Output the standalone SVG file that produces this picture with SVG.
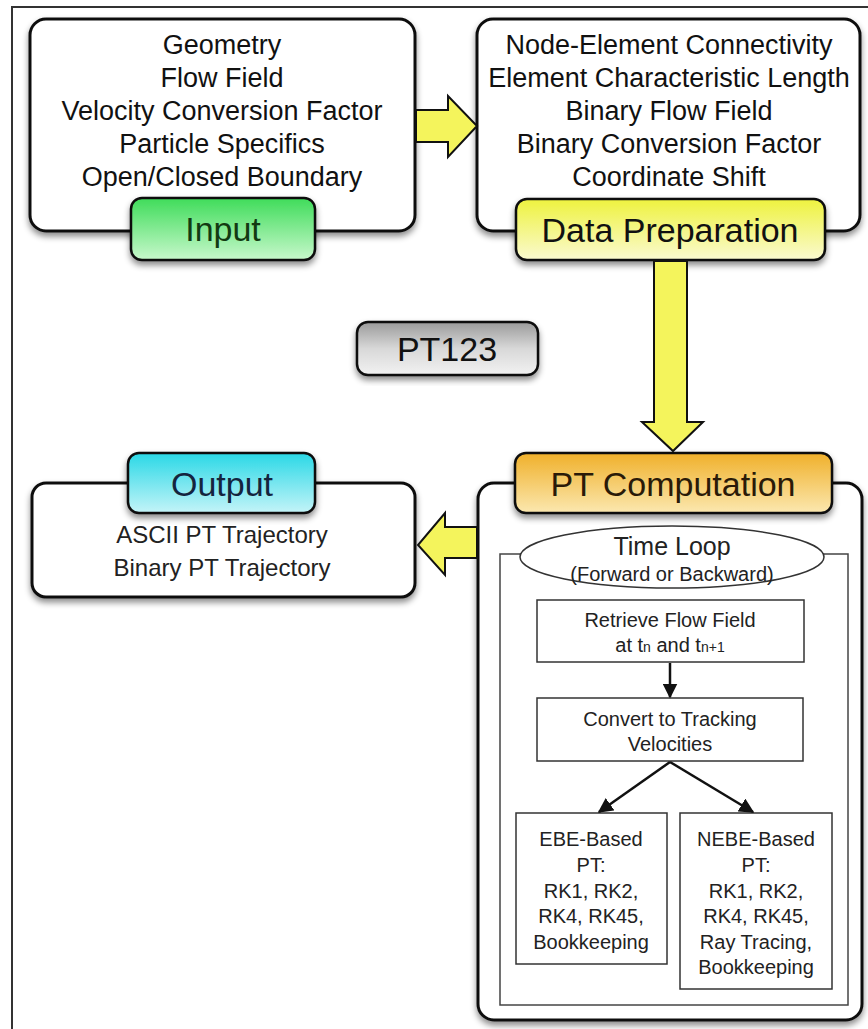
<svg xmlns="http://www.w3.org/2000/svg" width="868" height="1029" viewBox="0 0 868 1029">
<defs>
<style>
.box{fill:#fff;stroke:#111;stroke-width:3}
.txt{font-family:"Liberation Sans",Arial,sans-serif;fill:#111;text-anchor:middle}
.big{font-size:27px}
.lbl{font-size:34px}
.sm{font-size:20px;fill:#222}
.inner{fill:#fff;stroke:#333;stroke-width:1.5}
.yarrow{fill:#f4f45c;stroke:#111;stroke-width:2;stroke-linejoin:miter}
.conn{stroke:#111;stroke-width:2.5;fill:none}
</style>
<filter id="sh" x="-10%" y="-10%" width="120%" height="130%">
<feDropShadow dx="0" dy="4" stdDeviation="3" flood-color="#000" flood-opacity="0.45"/>
</filter>
<linearGradient id="gGreen" x1="0" y1="0" x2="0" y2="1">
<stop offset="0" stop-color="#3fdc5a"/><stop offset="1" stop-color="#c8f8cc"/>
</linearGradient>
<linearGradient id="gYellow" x1="0" y1="0" x2="0" y2="1">
<stop offset="0" stop-color="#eef23e"/><stop offset="1" stop-color="#fafad0"/>
</linearGradient>
<linearGradient id="gOrange" x1="0" y1="0" x2="0" y2="1">
<stop offset="0" stop-color="#f0b02a"/><stop offset="1" stop-color="#fbe8b0"/>
</linearGradient>
<linearGradient id="gCyan" x1="0" y1="0" x2="0" y2="1">
<stop offset="0" stop-color="#2ad8e6"/><stop offset="1" stop-color="#c4f4f8"/>
</linearGradient>
<linearGradient id="gGray" x1="0" y1="0" x2="0" y2="1">
<stop offset="0" stop-color="#9a9a9a"/><stop offset="0.5" stop-color="#d8d8d8"/><stop offset="1" stop-color="#f2f2f2"/>
</linearGradient>
<marker id="ah" viewBox="0 0 10 10" refX="9" refY="5" markerWidth="6" markerHeight="6" orient="auto" markerUnits="strokeWidth">
<path d="M0,0 L10,5 L0,10 z" fill="#111"/>
</marker>
</defs>
<rect x="0" y="0" width="868" height="1029" fill="#fff"/>
<path d="M12,1029 V7 H868" fill="none" stroke="#333" stroke-width="2"/>

<g id="input">
<rect class="box" x="30" y="19" width="385" height="212" rx="16" filter="url(#sh)"/>
<text class="txt big" x="222" y="54">Geometry</text>
<text class="txt big" x="222" y="87">Flow Field</text>
<text class="txt big" x="222" y="120">Velocity Conversion Factor</text>
<text class="txt big" x="222" y="153">Particle Specifics</text>
<text class="txt big" x="222" y="186">Open/Closed Boundary</text>
<rect x="131" y="198" width="184" height="62" rx="11" fill="url(#gGreen)" stroke="#111" stroke-width="2.5" filter="url(#sh)"/>
<text class="txt lbl" x="223" y="241" style="fill:#123a12">Input</text>
</g>

<g id="data-preparation">
<rect class="box" x="477" y="19" width="383" height="212" rx="16" filter="url(#sh)"/>
<text class="txt big" x="669" y="54">Node-Element Connectivity</text>
<text class="txt big" x="669" y="87">Element Characteristic Length</text>
<text class="txt big" x="669" y="120">Binary Flow Field</text>
<text class="txt big" x="669" y="153">Binary Conversion Factor</text>
<text class="txt big" x="669" y="186">Coordinate Shift</text>
<rect x="516" y="199" width="309" height="61" rx="11" fill="url(#gYellow)" stroke="#111" stroke-width="2.5" filter="url(#sh)"/>
<text class="txt lbl" x="670" y="242">Data Preparation</text>
</g>

<g id="pt123">
<rect x="357" y="322" width="181" height="53" rx="11" fill="url(#gGray)" stroke="#111" stroke-width="2.5" filter="url(#sh)"/>
<text class="txt lbl" x="447" y="361">PT123</text>
</g>

<g id="output">
<rect class="box" x="32" y="483" width="383" height="114" rx="14" filter="url(#sh)"/>
<rect x="128" y="453" width="187" height="60" rx="11" fill="url(#gCyan)" stroke="#111" stroke-width="2.5" filter="url(#sh)"/>
<text class="txt lbl" x="222" y="496" style="fill:#14243e">Output</text>
<text class="txt" x="222" y="543" font-size="24" style="fill:#222">ASCII PT Trajectory</text>
<text class="txt" x="222" y="576" font-size="24" style="fill:#222">Binary PT Trajectory</text>
</g>

<g id="pt-computation">
<rect class="box" x="478" y="483" width="384" height="537" rx="16" filter="url(#sh)"/>
<rect x="500" y="554" width="348" height="451" fill="none" stroke="#444" stroke-width="1.5"/>
<rect x="515" y="453" width="317" height="60" rx="11" fill="url(#gOrange)" stroke="#111" stroke-width="2.5" filter="url(#sh)"/>
<text class="txt lbl" x="673" y="496" style="fill:#2a1a08">PT Computation</text>
</g>

<g id="time-loop">
<ellipse cx="672" cy="557" rx="152" ry="31" fill="#fff" stroke="#333" stroke-width="1.5"/>
<text class="txt" x="672" y="555" font-size="25" style="fill:#222">Time Loop</text>
<text class="txt sm" x="672" y="581">(Forward or Backward)</text>
</g>

<g id="retrieve">
<rect class="inner" x="537" y="600" width="267" height="62"/>
<text class="txt sm" x="670" y="627">Retrieve Flow Field</text>
<text class="txt sm" x="670" y="652">at t<tspan font-size="14">n</tspan> and t<tspan font-size="14">n+1</tspan></text>
</g>

<g id="convert">
<rect class="inner" x="537" y="698" width="266" height="63"/>
<text class="txt sm" x="670" y="726">Convert to Tracking</text>
<text class="txt sm" x="670" y="751">Velocities</text>
</g>

<g id="ebe">
<rect class="inner" x="516" y="813" width="151" height="151"/>
<text class="txt sm" x="591" y="846">EBE-Based</text>
<text class="txt sm" x="591" y="872">PT:</text>
<text class="txt sm" x="591" y="898">RK1, RK2,</text>
<text class="txt sm" x="591" y="923">RK4, RK45,</text>
<text class="txt sm" x="591" y="949">Bookkeeping</text>
</g>

<g id="nebe">
<rect class="inner" x="680" y="813" width="152" height="176"/>
<text class="txt sm" x="756" y="846">NEBE-Based</text>
<text class="txt sm" x="756" y="872">PT:</text>
<text class="txt sm" x="756" y="898">RK1, RK2,</text>
<text class="txt sm" x="756" y="923">RK4, RK45,</text>
<text class="txt sm" x="756" y="949">Ray Tracing,</text>
<text class="txt sm" x="756" y="974">Bookkeeping</text>
</g>

<g id="connectors">
<path class="yarrow" d="M416,110 H448 V96 L477,126 L448,157 V142 H416 z"/>
<path class="yarrow" d="M654,261 V422 H642 L673,451 L703,422 H687 V261 z"/>
<path class="yarrow" d="M477,527 H445 V513 L418,545 L445,575 V558 H477 z"/>
<line class="conn" x1="670" y1="663" x2="670" y2="697" marker-end="url(#ah)"/>
<line class="conn" x1="670" y1="762" x2="599" y2="812" marker-end="url(#ah)"/>
<line class="conn" x1="670" y1="762" x2="753" y2="812" marker-end="url(#ah)"/>
</g>
</svg>
